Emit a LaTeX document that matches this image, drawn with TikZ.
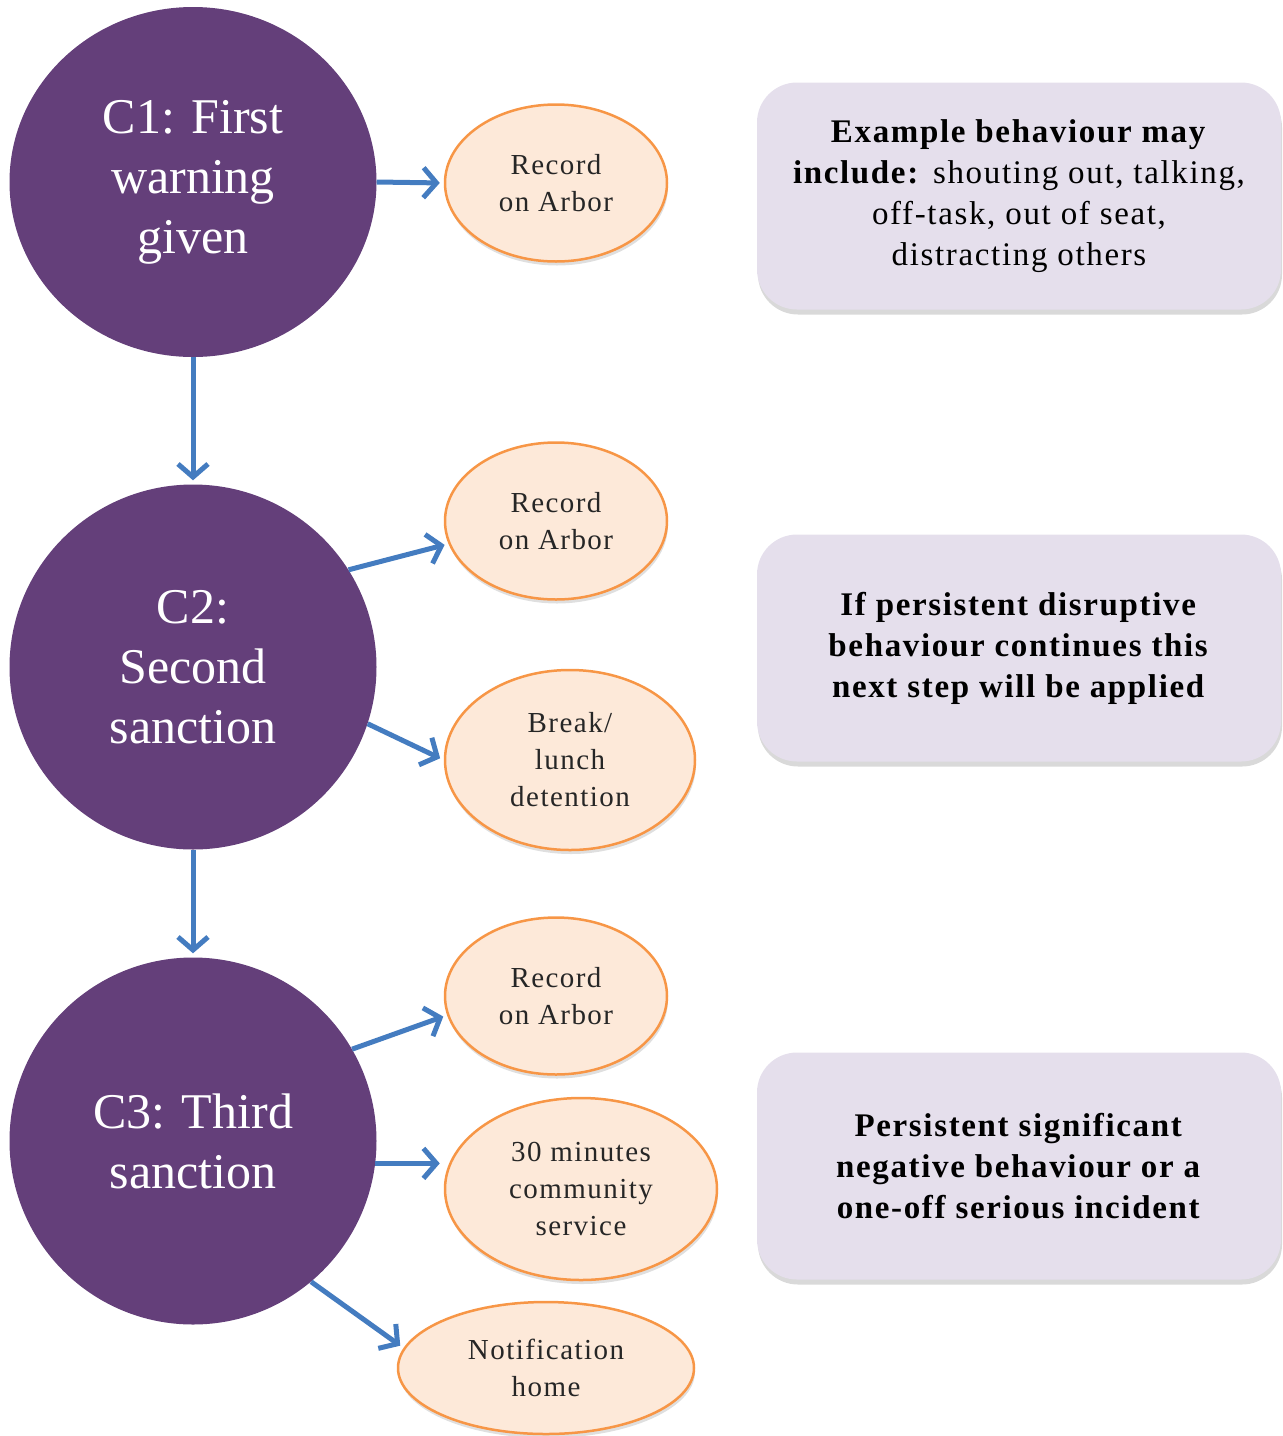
\documentclass[tikz,border=0pt]{standalone}
\usepackage{fontspec}
\setmainfont{Liberation Serif}
\usetikzlibrary{shapes.geometric,arrows.meta,shadows}

\definecolor{stagepurple}{RGB}{100,63,122}
\definecolor{peach}{RGB}{253,233,217}
\definecolor{peachline}{RGB}{247,150,70}
\definecolor{linkblue}{RGB}{68,124,192}
\definecolor{lilac}{RGB}{229,223,236}

\begin{document}
\begin{tikzpicture}[x=1pt,y=-1pt,
  stage/.style={ellipse,fill=stagepurple,text=white,inner sep=0pt,
    minimum width=367pt,minimum height=350pt,align=center,
    font=\fontsize{50}{60}\selectfont},
  action/.style={ellipse,draw=peachline,line width=2.5pt,fill=peach,
    inner sep=0pt,align=center,text=black!85,
    font=\fontsize{29}{37}\selectfont\addfontfeatures{LetterSpace=5},
    drop shadow={shadow xshift=1pt,shadow yshift=-4pt,opacity=0.25}},
  note/.style={rounded corners=40pt,fill=lilac,minimum width=524pt,
    minimum height=227pt,align=center,
    font=\fontsize{33}{41}\selectfont\addfontfeatures{LetterSpace=5},
    drop shadow={shadow xshift=1pt,shadow yshift=-5pt,opacity=0.3}},
  link/.style={draw=linkblue,line width=5pt,
    -{Straight Barb[length=13pt,width=30pt]},shorten >=4pt}]
  \useasboundingbox (0,0) rectangle (1283,1436);

  \node[stage] (c1) at (193,182) {C1: First\\warning\\given};
  \node[stage,minimum height=365pt] (c2) at (193,667) {C2:\\Second\\sanction};
  \node[stage,minimum height=367pt] (c3) at (193,1141) {C3: Third\\sanction};

  \node[action,minimum width=222pt,minimum height=157pt] (rec1) at (556,183) {Record\\on Arbor};
  \node[action,minimum width=222pt,minimum height=157pt] (rec2) at (556,521) {Record\\on Arbor};
  \node[action,minimum width=250pt,minimum height=180pt] (brk) at (570,760) {Break/\\lunch\\detention};
  \node[action,minimum width=222pt,minimum height=157pt] (rec3) at (556,996) {Record\\on Arbor};
  \node[action,minimum width=272pt,minimum height=182pt] (tmin) at (581,1189) {30 minutes\\community\\service};
  \node[action,minimum width=296pt,minimum height=132pt] (notif) at (546,1368) {Notification\\home};

  \node[note] (n1) at (1019,196) {\textbf{Example behaviour may}\\\textbf{include:} shouting out, talking,\\off-task, out of seat,\\distracting others};
  \node[note] (n2) at (1019,648) {\textbf{If persistent disruptive}\\\textbf{behaviour continues this}\\\textbf{next step will be applied}};
  \node[note] (n3) at (1019,1166) {\textbf{Persistent significant}\\\textbf{negative behaviour or a}\\\textbf{one-off serious incident}};

  \draw[link] (c1.east) -- (rec1.west);
  \draw[link] (c1.south) -- (c2.north);
  \draw[link] (c2.32) -- (rec2.192);
  \draw[link] (c2.-18) -- (brk.west);
  \draw[link] (c2.south) -- (c3.north);
  \draw[link] (c3.30) -- (rec3.190);
  \draw[link] (c3.-7) -- (c3.-7 -| tmin.west);
  \draw[link] (c3.-50) -- (notif.172);
\end{tikzpicture}
\end{document}
